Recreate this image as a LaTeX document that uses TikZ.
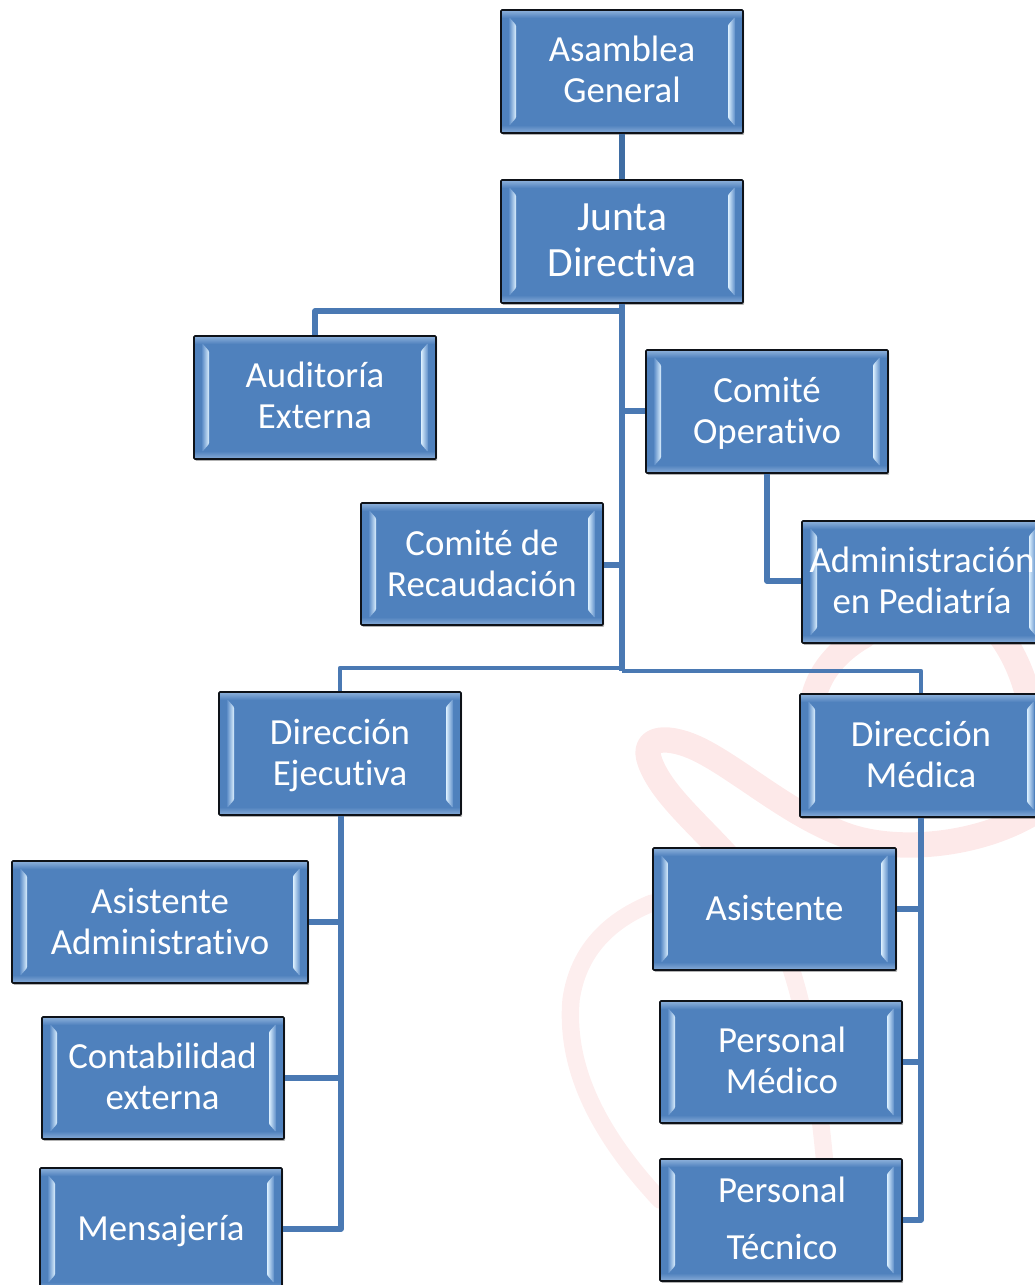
\documentclass[tikz,border=0pt]{standalone}
\usepackage{fontspec}
\setmainfont[RawFeature={-liga;-clig;-dlig}]{Carlito}
\usetikzlibrary{calc,shadows}
\definecolor{boxblue}{HTML}{4F81BD}
\definecolor{boxedge}{HTML}{0E1218}
\definecolor{linkblue}{HTML}{4A79B3}
\definecolor{linkdark}{HTML}{3F6DA3}
\definecolor{stripe}{HTML}{DCF0FF}
\definecolor{stripelo}{HTML}{5E8EC8}
\definecolor{bandtop}{HTML}{8FB2DC}
\definecolor{bandbot}{HTML}{89ADD9}
\definecolor{markpink}{HTML}{FDE9E9}
\definecolor{markpale}{HTML}{FDEEEE}
\newcommand{\fsize}[2]{\fontsize{#1}{#2}\selectfont}
\tikzset{
  x=0.75pt,y=-0.75pt,
  orgbox/.style={
    rectangle,rounded corners=0.8pt,draw=boxedge,line width=1.2pt,fill=boxblue,
    inner sep=0pt,
    drop shadow={shadow xshift=0.9pt,shadow yshift=-1.4pt,opacity=.3,fill=black},
    path picture={
      \coordinate (sw) at (path picture bounding box.south west);
      \coordinate (ne) at (path picture bounding box.north east);
      \shade[top color=bandtop,bottom color=boxblue] (sw|-ne) rectangle ($(ne)+(0,8)$);
      \shade[bottom color=bandbot,top color=boxblue] (sw) rectangle ($(sw-|ne)+(0,-8)$);
      \shade[left color=stripelo,right color=stripe]
        ($(sw|-ne)+(8,7)$) -- ($(sw|-ne)+(15,15)$) -- ($(sw)+(15,-15)$) -- ($(sw)+(8,-7)$) -- cycle;
      \shade[right color=stripelo,left color=stripe]
        ($(ne)+(-8,7)$) -- ($(ne)+(-15,15)$) -- ($(sw-|ne)+(-15,-15)$) -- ($(sw-|ne)+(-8,-7)$) -- cycle;
    }},
  orgtext/.style={text=white,align=center,inner sep=0pt,font=\fsize{27.6}{30.8}},
  link/.style={draw=linkblue,line width=3.9pt,line join=round},
  thinlink/.style={draw=linkblue,line width=3.6pt,line join=round},
  trunk/.style={draw=linkblue,line width=4.8pt},
  topbar/.style={draw=linkdark,line width=5.2pt},
  markline/.style={draw=markpink,line width=19pt,line cap=round,line join=round},
  markthin/.style={draw=markpale,line width=13pt,line cap=round,line join=round}
}
\begin{document}
\begin{tikzpicture}
\useasboundingbox (0,0) rectangle (1035,1285);
\clip (0,0) rectangle (1035,1285);
% watermark
\draw[markline] (1045,805) .. controls (990,845) and (900,855) .. (845,835)
  .. controls (790,815) and (740,770) .. (700,750)
  .. controls (670,735) and (640,735) .. (650,762)
  .. controls (662,795) and (700,825) .. (735,865);
\draw[markthin] (735,865) .. controls (770,900) and (790,960) .. (800,1000)
  .. controls (812,1050) and (820,1110) .. (825,1165);
\draw[markthin] (652,903) .. controls (610,920) and (578,950) .. (571,1000)
  .. controls (566,1060) and (590,1125) .. (660,1200);
\draw[markline] (812,705) .. controls (816,680) and (830,655) .. (865,635);
\draw[markline] (1000,635) .. controls (1015,655) and (1025,680) .. (1030,705);
% boxes
\node[orgbox,minimum width=181.5pt,minimum height=92.25pt] (asamblea) at (622,71.5) {};
\node[orgbox,minimum width=181.5pt,minimum height=92.25pt] (junta) at (622,241.5) {};
\node[orgbox,minimum width=181.5pt,minimum height=92.25pt] (auditoria) at (315,397.5) {};
\node[orgbox,minimum width=181.5pt,minimum height=92.25pt] (comiteop) at (767,411.5) {};
\node[orgbox,minimum width=181.5pt,minimum height=91.5pt] (admin) at (923,582) {};
\node[orgbox,minimum width=181.5pt,minimum height=91.5pt] (recauda) at (482,564) {};
\node[orgbox,minimum width=181.5pt,minimum height=92.25pt] (direj) at (340,753.5) {};
\node[orgbox,minimum width=181.5pt,minimum height=92.25pt] (dirmed) at (921,755.5) {};
\node[orgbox,minimum width=222pt,minimum height=91.5pt] (asisadm) at (160,922) {};
\node[orgbox,minimum width=181.5pt,minimum height=91.5pt] (contab) at (163,1078) {};
\node[orgbox,minimum width=181.5pt,minimum height=91.5pt] (mensaj) at (161,1229) {};
\node[orgbox,minimum width=182.25pt,minimum height=91.5pt] (asist) at (774.5,909) {};
\node[orgbox,minimum width=181.5pt,minimum height=91.5pt] (pmedico) at (781,1062) {};
\node[orgbox,minimum width=181.5pt,minimum height=91.5pt] (ptecnico) at (781,1220) {};
% labels
\node[orgtext] (asamblea-t) at (622,69.5) {Asamblea\\General};
\node[orgtext,font=\fsize{31.2}{34.5}] (junta-t) at (622,240.5) {Junta\\Directiva};
\node[orgtext] (auditoria-t) at (315,395.5) {Auditoría\\Externa};
\node[orgtext] (comiteop-t) at (767,413.5) {Comité\\Operativo};
\node[orgtext] (admin-t) at (922,580.5) {Administración\\en Pediatría};
\node[orgtext] (recauda-t) at (482,563) {Comité de\\Recaudación};
\node[orgtext] (direj-t) at (340,755.5) {Dirección\\Ejecutiva};
\node[orgtext] (dirmed-t) at (921,754.5) {Dirección\\Médica};
\node[orgtext] (asisadm-t) at (160,921.5) {Asistente\\Administrativo};
\node[orgtext] (contab-t) at (162.5,1076) {Contabilidad\\externa};
\node[orgtext] (mensaj-t) at (161,1231) {Mensajería};
\node[orgtext] (asist-t) at (774.5,908) {Asistente};
\node[orgtext] (pmedico-t) at (782,1060) {Personal\\Médico};
\node[orgtext,font=\fsize{27.6}{42.7}] (ptecnico-t) at (782,1218) {Personal\\Técnico};
% junction points
\coordinate (jtop) at (622,311);
\coordinate (jop) at (622,411);
\coordinate (jrec) at (622,565);
\coordinate (jej) at (622,668);
\coordinate (jmed) at (622,671);
\coordinate (opdown) at (767,581);
\coordinate (ejbot) at (341,1229);
\coordinate (medbot) at (921,1220);
\coordinate (jasis) at (341,922);
\coordinate (jcont) at (341,1078);
% connectors
\draw[topbar] (asamblea.south) -- (junta.north);
\draw[trunk] (junta.south) -- (jmed);
\draw[link] (jtop) -| (auditoria.north);
\draw[link] (jop) -- (jop-|comiteop.west);
\draw[link] (jrec) -- (jrec-|recauda.east);
\draw[thinlink] (jej) -| (direj.north);
\draw[thinlink] (jmed) -| (dirmed.north);
\draw[link] (comiteop.south) |- (admin.west|-opdown);
\draw[link] (direj.south-|ejbot) -- (ejbot) -- (mensaj.east|-ejbot);
\draw[link] (asisadm.east|-jasis) -- (jasis);
\draw[link] (contab.east|-jcont) -- (jcont);
\draw[trunk] (dirmed.south-|medbot) -- (medbot|-asist.east);
\draw[link] (medbot|-asist.east) -- (medbot) -- (ptecnico.east|-medbot);
\draw[link] (asist.east) -- (asist.east-|medbot);
\draw[link] (pmedico.east) -- (pmedico.east-|medbot);
\end{tikzpicture}
\end{document}
